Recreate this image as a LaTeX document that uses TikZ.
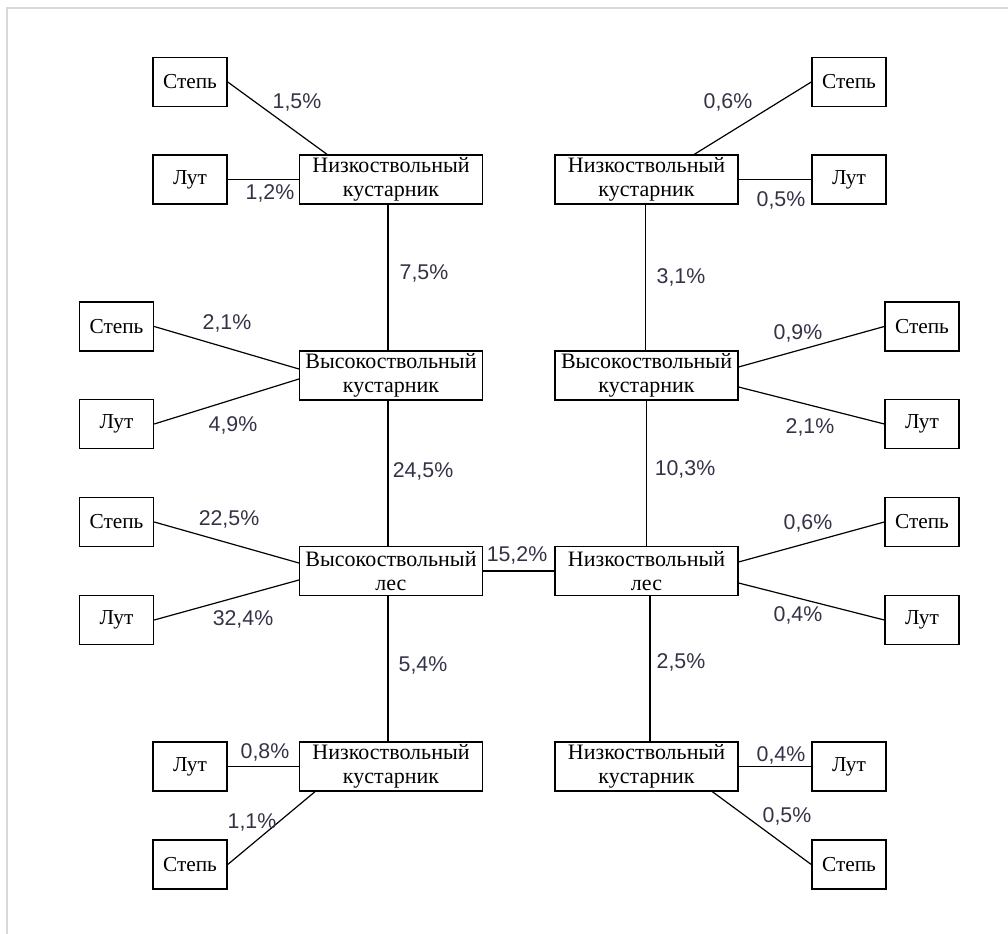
\documentclass[tikz,border=0pt]{standalone}
\usepackage{fontspec}
\setmainfont{Liberation Serif}
\newfontfamily\pctfont{Liberation Sans}
\usetikzlibrary{calc}
\definecolor{pctcol}{rgb}{0.2,0.2,0.28}
\definecolor{framecol}{rgb}{0.85,0.85,0.85}
\begin{document}
\begin{tikzpicture}[x=0.75pt,y=-0.75pt,
  small/.style={draw,line width=1.1pt,minimum width=55.5pt,minimum height=36.75pt,inner sep=0pt,font=\fontsize{16}{17}\selectfont},
  big/.style={draw,line width=1.1pt,minimum width=137pt,minimum height=36.75pt,inner sep=0pt,align=center,font=\fontsize{16.5}{17.5}\selectfont},
  conn/.style={line width=0.9pt},
  pct/.style={font=\pctfont\fontsize{16}{17}\selectfont,text=pctcol,inner sep=0pt}]
\useasboundingbox (0,0) rectangle (1008,934);
\draw[framecol,line width=1pt] (7,934) -- (7,8) -- (1008,8);
% main boxes
\node[big] (A) at (391,179.5) {Низкоствольный\\кустарник};
\node[big] (B) at (391,375.5) {Высокоствольный\\кустарник};
\node[big] (C) at (391,571) {Высокоствольный\\лес};
\node[big] (E) at (391,766.5) {Низкоствольный\\кустарник};
\node[big] (F) at (646.5,179.5) {Низкоствольный\\кустарник};
\node[big] (G) at (646.5,375.5) {Высокоствольный\\кустарник};
\node[big] (D) at (646.5,571) {Низкоствольный\\лес};
\node[big] (H) at (646.5,766.5) {Низкоствольный\\кустарник};
% small boxes left
\node[small] (s1) at (190,82) {Степь};
\node[small] (l1) at (190,179.5) {Лут};
\node[small] (s2) at (116.5,326.5) {Степь};
\node[small] (l2) at (116.5,424) {Лут};
\node[small] (s3) at (116.5,522) {Степь};
\node[small] (l3) at (116.5,620) {Лут};
\node[small] (l4) at (190,766.5) {Лут};
\node[small] (s4) at (190,864.5) {Степь};
% small boxes right
\node[small] (s5) at (849,82) {Степь};
\node[small] (l5) at (849,179.5) {Лут};
\node[small] (s6) at (922,326.5) {Степь};
\node[small] (l6) at (922,424) {Лут};
\node[small] (s7) at (922,522) {Степь};
\node[small] (l7) at (922,620) {Лут};
\node[small] (l8) at (849,766.5) {Лут};
\node[small] (s8) at (849,864.5) {Степь};
% vertical connectors
\draw[conn] ($(A.south)+(-3,0)$) -- ($(B.north)+(-3,0)$);
\draw[conn] ($(B.south)+(-3,0)$) -- ($(C.north)+(-3,0)$);
\draw[conn] ($(C.south)+(-3,0)$) -- ($(E.north)+(-3,0)$);
\draw[conn] ($(F.south)+(-1,0)$) -- ($(G.north)+(-1,0)$);
\draw[conn] (G.south) -- (D.north);
\draw[conn] ($(D.south)+(3.5,0)$) -- ($(H.north)+(3.5,0)$);
\draw[conn] (C.east) -- (D.west);
% left branches
\draw[conn] (s1.east) -- ($(A.north west)+(28,0)$);
\draw[conn] (l1.east) -- (A.west);
\draw[conn] (s2.east) -- ($(B.west)+(0,-6.5)$);
\draw[conn] (l2.east) -- ($(B.west)+(0,3.5)$);
\draw[conn] (s3.east) -- ($(C.west)+(0,-8)$);
\draw[conn] (l3.east) -- ($(C.west)+(0,9)$);
\draw[conn] (l4.east) -- (E.west);
\draw[conn] ($(E.south west)+(16,0)$) -- (s4.east);
% right branches
\draw[conn] ($(F.north west)+(140,0)$) -- (s5.west);
\draw[conn] (F.east) -- (l5.west);
\draw[conn] ($(G.east)+(0,-8.5)$) -- (s6.west);
\draw[conn] ($(G.east)+(0,11.5)$) -- (l6.west);
\draw[conn] ($(D.east)+(0,-9)$) -- (s7.west);
\draw[conn] ($(D.east)+(0,12)$) -- (l7.west);
\draw[conn] (H.east) -- (l8.west);
\draw[conn] ($(H.south west)+(158,0)$) -- (s8.west);
% labels
\node[pct] (p1) at (297,102) {1,5\%};
\node[pct] (p2) at (270,193) {1,2\%};
\node[pct] (p3) at (728,102) {0,6\%};
\node[pct] (p4) at (781,200) {0,5\%};
\node[pct] (p5) at (424,273) {7,5\%};
\node[pct] (p6) at (681,277) {3,1\%};
\node[pct] (p7) at (227,323) {2,1\%};
\node[pct] (p8) at (233,425) {4,9\%};
\node[pct] (p9) at (798,333) {0,9\%};
\node[pct] (p10) at (810,427) {2,1\%};
\node[pct] (p11) at (423,471) {24,5\%};
\node[pct] (p12) at (685,469) {10,3\%};
\node[pct] (p13) at (229,519) {22,5\%};
\node[pct] (p14) at (243,619) {32,4\%};
\node[pct] (p15) at (517,555) {15,2\%};
\node[pct] (p16) at (808,523) {0,6\%};
\node[pct] (p17) at (798,615) {0,4\%};
\node[pct] (p18) at (423,665) {5,4\%};
\node[pct] (p19) at (681,662) {2,5\%};
\node[pct] (p20) at (265,752) {0,8\%};
\node[pct] (p21) at (252,822) {1,1\%};
\node[pct] (p22) at (781,755) {0,4\%};
\node[pct] (p23) at (787,816) {0,5\%};
\end{tikzpicture}
\end{document}
